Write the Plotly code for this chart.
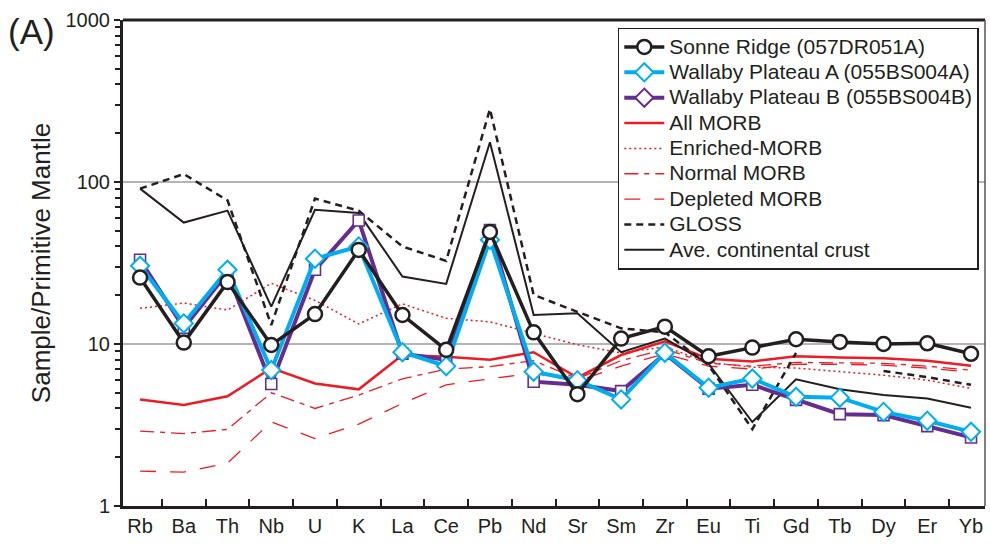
import plotly.graph_objects as go

elements = ["Rb", "Ba", "Th", "Nb", "U", "K", "La", "Ce", "Pb", "Nd",
            "Sr", "Sm", "Zr", "Eu", "Ti", "Gd", "Tb", "Dy", "Er", "Yb"]

sonne = [25.7, 10.2, 24.1, 9.86, 15.3, 38.1, 15.1, 9.2, 49.1, 11.8,
         4.9, 10.8, 12.8, 8.4, 9.5, 10.7, 10.3, 10.0, 10.1, 8.7]
wallaby_a = [30.4, 13.4, 28.7, 6.9, 33.6, 40.0, 8.9, 7.3, 44.0, 6.75,
             5.98, 4.55, 8.84, 5.37, 6.12, 4.72, 4.66, 3.81, 3.36, 2.87]
wallaby_b = [33.1, 12.6, 27.5, 5.66, 28.7, 57.9, 8.7, 8.0, 50.5, 5.85,
             5.6, 5.12, 8.7, 5.3, 5.6, 4.52, 3.69, 3.64, 3.11, 2.65]
all_morb = [4.55, 4.2, 4.76, 7.1, 5.7, 5.25, 8.55, 8.35, 8.0, 8.9,
            6.2, 8.55, 10.4, 8.1, 7.8, 8.4, 8.24, 8.17, 7.87, 7.33]
enriched_morb = [16.6, 17.9, 16.2, 23.7, 18.6, 13.3, 17.7, 14.4, 13.7, 11.6,
                 9.9, 8.8, 9.6, 7.7, 7.2, 7.1, 6.74, 6.42, 5.98, 5.32]
normal_morb = [2.9, 2.8, 2.97, 5.0, 4.0, 4.84, 6.1, 7.0, 7.25, 7.9,
               6.1, 7.9, 9.3, 7.6, 7.3, 7.7, 7.65, 7.6, 7.3, 6.9]
depleted_morb = [1.64, 1.62, 1.84, 3.31, 2.61, 3.2, 4.3, 5.6, 6.1, 6.6,
                 5.9, 7.3, 8.7, 7.3, 7.0, 7.5, 7.5, 7.4, 7.1, 6.7]
gloss = [91, 112, 77, 13.1, 79, 66.5, 40, 32.6, 282, 20.1,
         15.8, 12.5, 11.8, 7.4, 2.98, 8.8, None, 6.82, 6.24, 5.6]
crust = [91, 56.2, 66.6, 17.0, 67.4, 64.3, 26.1, 23.5, 176, 15.1,
         15.5, 8.9, 10.8, 7.56, 3.3, 6.05, 5.25, 4.84, 4.61, 4.04]

y_ticks = [1, 10, 100, 1000]

INK = "#231f20"
RED = "#ed1c24"
CYAN = "#00aeef"
PURPLE = "#662d91"
FONT = "Liberation Sans, Arial, sans-serif"
LEGEND_TEXT_PX = 21


def legend_name(text):
    return f'<span style="font-size:{LEGEND_TEXT_PX}px">{text}</span>'


fig = go.Figure()


def ref_line(y, name, color, width, dash, rank):
    fig.add_trace(go.Scatter(x=elements, y=y, name=legend_name(name), mode="lines",
                             line=dict(color=color, width=width, dash=dash),
                             connectgaps=False, legendrank=rank))


ref_line(all_morb, "All MORB", RED, 2.5, "solid", 4)
ref_line(enriched_morb, "Enriched-MORB", RED, 1.5, "2px,3px", 5)
ref_line(normal_morb, "Normal MORB", RED, 1.3, "14px,6px,5px,6px", 6)
ref_line(depleted_morb, "Depleted MORB", RED, 1.3, "16px,14px", 7)
ref_line(gloss, "GLOSS", INK, 2.5, "7px,5px", 8)
ref_line(crust, "Ave. continental crust", INK, 2, "solid", 9)

fig.add_trace(go.Scatter(x=elements, y=wallaby_b, name="Wallaby Plateau B (055BS004B)",
                         mode="lines+markers", showlegend=False,
                         line=dict(color=PURPLE, width=4),
                         marker=dict(symbol="square", size=11, color="white",
                                     line=dict(color=PURPLE, width=1.6))))
fig.add_trace(go.Scatter(x=elements, y=wallaby_a,
                         name=legend_name("Wallaby Plateau A (055BS004A)"),
                         mode="lines+markers", legendrank=2,
                         line=dict(color=CYAN, width=4),
                         marker=dict(symbol="diamond", size=14, color="white",
                                     line=dict(color=CYAN, width=2))))
fig.add_trace(go.Scatter(x=elements, y=sonne,
                         name=legend_name("Sonne Ridge (057DR051A)"),
                         mode="lines+markers", legendrank=1,
                         line=dict(color=INK, width=3.5),
                         marker=dict(symbol="circle", size=14, color="white",
                                     line=dict(color=INK, width=2.5))))
# legend entry for Wallaby Plateau B (shown with a diamond in the legend)
fig.add_trace(go.Scatter(x=[None], y=[None],
                         name=legend_name("Wallaby Plateau B (055BS004B)"),
                         mode="lines+markers", legendrank=3,
                         line=dict(color=PURPLE, width=4),
                         marker=dict(symbol="diamond", size=14, color="white",
                                     line=dict(color=PURPLE, width=2))))

fig.update_layout(
    width=990, height=544,
    margin=dict(l=123, r=5, t=20, b=38),
    paper_bgcolor="white", plot_bgcolor="white",
    font=dict(family=FONT, color=INK),
    showlegend=True,
    legend=dict(x=0.574, y=0.984, xanchor="left", yanchor="top",
                bgcolor="white", bordercolor=INK, borderwidth=1.5,
                font=dict(size=17.2, family=FONT, color=INK),
                tracegroupgap=0, itemwidth=40),
    xaxis=dict(type="category", categoryarray=elements, categoryorder="array",
               range=[-0.39, 19.32], tickson="boundaries",
               ticks="inside", ticklen=7, tickwidth=2, tickcolor=INK,
               showline=True, linewidth=3, linecolor=INK,
               showgrid=False, zeroline=False,
               tickfont=dict(size=20, family=FONT, color=INK)),
    yaxis=dict(type="log", range=[0, 3],
               tickvals=y_ticks, ticktext=[str(v) for v in y_ticks],
               ticks="outside", ticklen=6, tickwidth=2, tickcolor=INK,
               showline=True, linewidth=3, linecolor=INK,
               showgrid=True, gridcolor="#b5b5b5", gridwidth=1.5,
               zeroline=False,
               minor=dict(ticks="outside", ticklen=5, tickwidth=1.5,
                          tickcolor=INK, dtick="D1", showgrid=False),
               tickfont=dict(size=20, family=FONT, color=INK),
               title=dict(text="Sample/Primitive Mantle", standoff=8,
                          font=dict(size=26, family=FONT, color=INK))),
    shapes=[
        dict(type="line", xref="paper", yref="paper", x0=0, x1=1, y0=1, y1=1,
             line=dict(color=INK, width=3)),
        dict(type="line", xref="paper", yref="paper", x0=1, x1=1, y0=0, y1=1,
             line=dict(color="#555555", width=1.5)),
    ],
    annotations=[
        dict(text="(A)", xref="paper", yref="paper", x=-0.106, y=0.977,
             xanchor="center", yanchor="middle", showarrow=False,
             font=dict(size=35, family=FONT, color=INK)),
    ],
)

fig.write_html("out.html")
